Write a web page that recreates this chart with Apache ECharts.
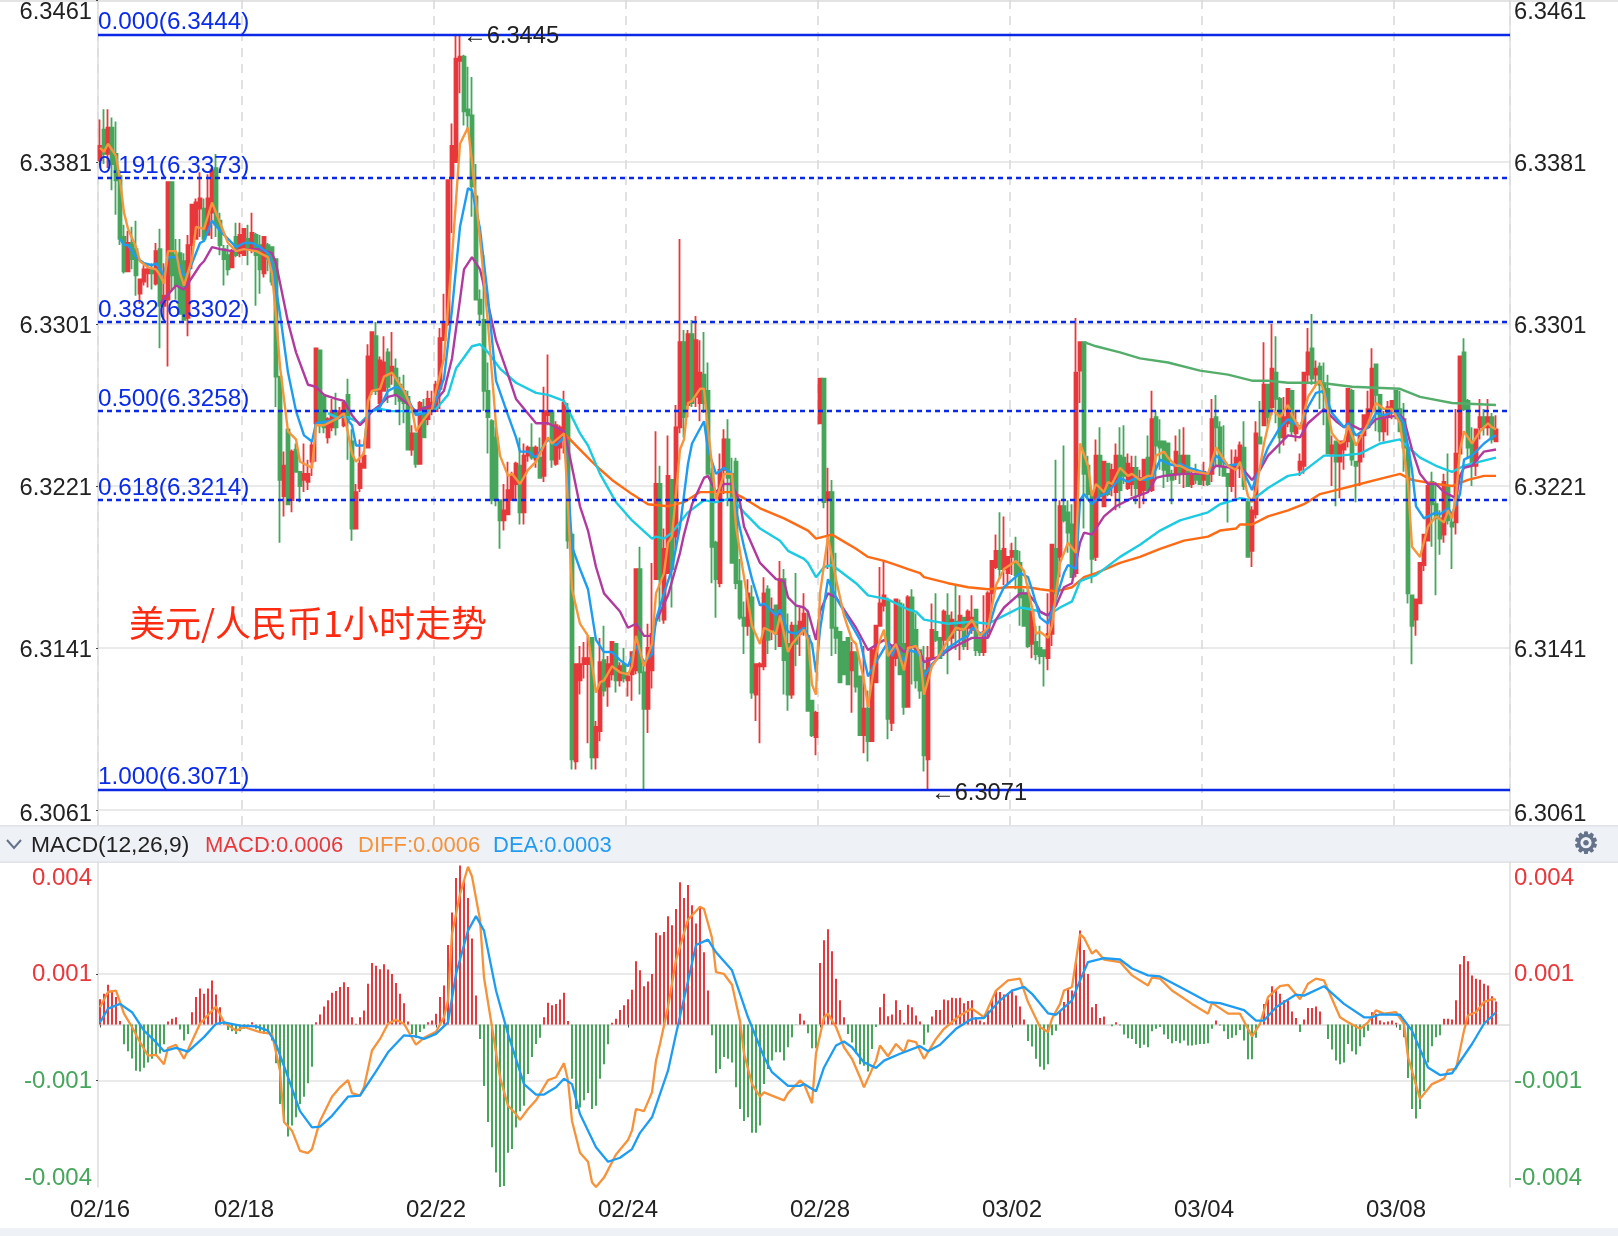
<!DOCTYPE html>
<html><head><meta charset="utf-8">
<style>html,body{margin:0;padding:0;background:#fff}#c{width:1618px;height:1236px}</style>
<script src="https://cdn.jsdelivr.net/npm/echarts@6/dist/echarts.min.js"></script>
</head><body><div id="c"></div>
<script>
// candles: [open, close, low, high], in 0.0001 above 6.3000
const bars0216=[[382,389,381,402],[397,385,380,407],[385,398,378,407],[398,380,367,403],[385,372,355,401],[374,343,340,377],[344,327,326,350],[327,341,327,347],[341,333,328,349],[338,325,315,352],[316,323,311,323],[322,328,320,330],[326,328,319,330],[328,326,318,331],[321,337,320,341],[338,310,289,348],[310,315,303,331],[313,371,280,371],[371,325,317,371],[335,320,313,343],[336,306,306,343],[332,303,303,336],[304,340,295,345],[340,360,328,360],[343,361,343,363],[358,363,344,376],[358,343,342,363],[345,363,345,375],[356,377,343,378],[378,350,344,385],[352,340,335,356],[338,333,320,340],[335,328,325,340],[329,337,329,338],[344,335,334,351],[336,345,334,351]];
const bars0218=[[335,348,335,348],[343,338,330,350],[338,346,336,356],[345,335,310,346],[340,328,316,345],[326,344,324,344],[340,333,327,341],[339,322,320,339],[333,275,260,333],[275,224,193,275],[216,231,206,238],[249,212,212,249],[214,238,208,239],[239,228,228,242],[228,221,213,228],[224,227,218,242],[223,227,219,234],[233,241,226,243],[252,289,233,289],[288,251,247,288],[265,250,247,266],[245,254,242,255],[250,258,248,264],[258,250,246,267],[256,258,254,260],[251,262,250,263],[266,254,234,274],[243,200,194,249],[200,218,200,222],[220,232,218,244],[230,236,230,238],[240,285,240,291],[268,297,266,297],[295,268,266,302],[262,283,262,285],[268,282,268,295],[287,270,262,289],[276,280,271,297],[279,266,261,284],[271,263,251,275],[268,262,252,276],[265,239,239,268],[239,247,236,251],[247,232,230,247],[232,262,232,263],[260,245,245,264],[254,264,251,268],[258,262,256,268]];
const bars0222=[[258,271,258,273],[269,294,259,299],[293,302,293,316],[301,372,300,372],[373,389,346,400],[381,432,381,444],[431,433,415,444],[433,406,399,434],[407,404,397,428],[404,369,354,423],[364,313,313,380],[313,306,300,318],[303,268,258,335],[268,255,237,282],[253,214,212,254],[245,214,211,250],[214,204,190,214],[204,209,199,222],[207,219,207,233],[214,226,214,228],[222,232,214,233],[231,208,202,245],[208,236,202,242],[236,240,233,241],[240,235,234,252],[234,240,230,241],[235,225,225,245],[226,258,223,270],[256,258,251,286],[258,234,230,258],[232,251,231,253],[240,250,234,251],[244,262,237,268],[258,194,190,262],[197,86,81,198],[85,133,81,133],[125,133,118,142],[133,136,126,144],[133,136,94,147],[146,87,81,146],[87,102,81,105],[100,134,95,146],[135,120,117,152],[122,133,112,137],[128,144,125,144],[143,125,119,143],[125,132,122,134],[133,126,124,141]];
const bars0224=[[125,127,117,129],[128,139,115,139],[130,180,128,180],[180,129,118,191],[129,111,71,133],[111,141,99,153],[130,148,121,183],[175,222,175,248],[222,175,154,231],[155,190,153,200],[178,226,178,246],[224,180,161,224],[196,250,190,261],[250,292,247,343],[292,255,245,298],[261,296,255,298],[296,262,260,303],[265,293,260,305],[262,277,253,293],[276,262,257,297],[268,227,227,282],[227,191,173,230],[193,175,156,194],[173,229,171,237],[229,244,217,249],[244,225,211,254],[227,183,183,235],[233,173,170,235],[174,156,155,185],[156,152,138,164],[152,168,147,175],[166,119,116,172],[118,133,105,133],[132,133,94,134],[132,168,130,176],[170,145,138,172],[150,160,145,166],[162,148,140,162],[142,175,142,184],[175,135,118,180],[143,118,110,158],[118,152,116,154],[152,143,132,178],[148,154,137,161],[150,158,147,168],[147,110,110,160],[115,98,97,115],[97,109,88,110],[252,274,252,274]];
const bars0228=[[274,213,210,274],[214,218,180,230],[218,151,137,224],[151,146,138,188],[149,124,124,149],[144,128,128,144],[146,123,123,146],[130,139,109,144],[139,122,119,139],[127,98,98,127],[98,111,89,142],[111,95,85,120],[95,140,95,141],[124,152,124,152],[152,163,152,181],[162,167,159,184],[164,106,96,166],[104,141,100,141],[136,165,132,165],[163,128,128,165],[143,112,108,163],[112,166,112,167],[166,142,123,170],[150,125,121,158],[140,120,116,140],[130,88,80,142],[86,136,71,142],[136,150,136,163],[149,145,144,168],[146,136,136,146],[145,159,137,160],[157,145,128,168],[146,155,141,159],[154,150,140,172],[150,157,135,167],[156,142,140,156],[151,159,140,160],[150,156,148,167],[160,140,137,160],[146,139,137,146],[139,149,137,167],[149,168,146,169],[168,184,161,184],[181,189,180,197],[189,180,175,208],[180,190,172,206],[178,186,172,186],[186,189,177,193]];
const bars0302=[[189,177,170,196],[183,166,152,189],[168,152,152,170],[168,142,141,173],[143,159,136,159],[144,138,135,152],[141,137,133,152],[140,137,122,140],[136,148,130,168],[148,192,142,192],[190,168,163,234],[186,211,176,214],[211,204,203,241],[208,198,188,214],[202,176,176,212],[178,277,176,304],[278,292,262,292],[292,227,200,292],[231,217,214,236],[218,185,173,219],[186,236,184,244],[236,216,214,250],[211,233,211,233],[232,217,216,232],[221,229,216,232],[218,236,209,242],[236,219,210,250],[235,226,222,251],[220,232,219,237],[222,230,216,236],[230,220,212,236],[217,225,210,229],[219,234,212,234],[235,219,218,246],[219,254,218,268],[255,241,224,258],[243,240,229,254],[243,229,220,243],[242,226,223,242],[227,224,212,229],[227,238,224,246],[236,227,222,249],[227,236,220,250],[236,221,221,236],[222,227,220,230],[227,224,222,232],[227,222,222,227],[224,228,221,233]];
const bars0304=[[227,222,221,227],[227,254,223,264],[255,250,231,266],[250,231,226,253],[230,226,226,251],[227,221,203,227],[221,231,218,239],[230,235,215,239],[230,241,225,243],[240,221,219,253],[213,186,186,214],[189,209,181,211],[207,247,205,253],[245,242,242,263],[251,271,251,292],[271,255,250,271],[260,279,256,301],[277,264,252,295],[264,245,237,265],[245,255,241,265],[252,269,250,269],[268,248,246,268],[247,252,243,258],[229,233,226,237],[231,277,227,277],[276,287,272,299],[289,274,271,306],[276,279,271,283],[280,271,259,282],[271,267,251,282],[269,237,237,276],[237,241,221,246],[243,233,211,243],[233,243,215,243],[239,243,229,243],[243,269,240,269],[268,234,231,269],[233,231,213,233],[233,246,221,246],[246,256,235,256],[250,259,249,268],[258,279,258,289],[281,266,248,281],[266,248,243,266],[248,255,243,258],[255,260,246,263],[258,263,254,263],[268,259,254,268]];
const bars0308=[[259,248,248,268],[254,240,228,262],[240,168,163,240],[167,152,133,167],[155,165,147,165],[163,183,163,183],[182,197,179,197],[194,221,194,221],[223,212,191,228],[212,205,167,223],[205,195,187,209],[197,223,193,227],[221,204,202,237],[203,201,180,207],[203,237,197,259],[237,285,237,285],[287,259,258,294],[263,240,235,264],[243,231,221,250],[231,249,226,249],[250,255,244,264],[255,250,246,259],[250,255,246,264],[255,244,242,257],[243,249,243,256]];

// moving averages: [candle index as first read, value in 0.0001 above 6.3000]
const maOrange=[[0,388],[1,386],[2,390],[4,384],[5,372],[6,356],[7,348],[9,339],[10,332],[12,329],[14,328],[15,325],[16,321],[17,337],[19,337],[20,326],[21,320],[23,333],[24,349],[26,348],[28,361],[30,351],[32,341],[34,337],[36,338],[39,337],[42,334],[43,326],[44,305],[45,280],[46,264],[47,248],[49,244],[50,233],[53,230],[54,251],[56,251],[59,254],[61,257],[63,237],[64,233],[66,237],[67,263],[68,268],[70,269],[71,275],[73,277],[76,268],[78,259],[79,248],[81,254],[83,259],[84,268],[86,284],[88,334],[90,390],[92,398],[93,381],[95,343],[97,301],[99,251],[100,236],[102,226],[103,227],[105,222],[107,229],[109,233],[112,245],[113,242],[116,247],[117,211],[118,170],[120,153],[122,147],[124,119],[125,124],[126,125],[128,132],[130,129],[132,128],[133,132],[134,147],[136,132],[138,143],[139,168],[141,178],[142,193],[143,196],[145,239],[146,244],[147,262],[148,263],[150,269],[151,269],[152,249],[154,214],[156,227],[158,227],[159,201],[161,176],[163,152],[165,143],[166,151],[168,148],[169,157],[171,139],[172,143],[175,150],[176,145],[177,123],[178,118],[179,168],[181,196],[183,175],[185,157],[187,145],[188,143],[190,125],[191,112],[193,138],[194,145],[195,150],[196,137],[198,143],[200,130],[201,141],[203,142],[204,138],[205,118],[207,132],[209,138],[211,145],[213,151],[215,150],[217,155],[219,147],[221,151],[223,172],[225,180],[228,184],[230,179],[232,161],[233,148],[234,149],[236,146],[237,152],[238,168],[239,183],[241,193],[243,188],[244,242],[246,231],[247,216],[248,222],[250,218],[251,223],[252,222],[254,230],[256,226],[257,227],[259,224],[261,226],[262,226],[263,236],[265,238],[266,235],[268,231],[269,231],[271,229],[273,228],[276,227],[278,240],[281,231],[283,229],[284,233],[286,216],[287,213],[288,219],[290,242],[292,259],[294,255],[296,261],[297,256],[299,249],[301,265],[303,271],[304,273],[305,268],[307,247],[309,242],[310,243],[311,251],[313,241],[316,252],[318,262],[320,259],[322,259],[324,252],[326,222],[327,191],[329,186],[331,201],[333,206],[335,203],[336,209],[337,205],[338,216],[339,239],[340,248],[342,242],[344,248],[346,252],[347,250],[348,249]];
const maBlue=[[5,343],[6,340],[7,340],[9,334],[11,331],[13,330],[14,331],[16,325],[17,334],[19,334],[21,325],[22,326],[25,341],[26,342],[28,352],[30,347],[32,343],[34,339],[36,341],[38,341],[40,339],[42,336],[43,331],[45,306],[47,277],[49,258],[51,246],[53,243],[54,252],[57,253],[59,254],[61,256],[63,251],[64,241],[66,241],[67,257],[70,260],[72,268],[74,270],[76,268],[79,256],[83,258],[86,274],[88,308],[90,349],[92,368],[93,367],[95,348],[97,314],[99,273],[102,256],[104,245],[105,238],[107,238],[109,235],[112,244],[114,241],[116,245],[117,224],[118,191],[120,180],[122,170],[124,145],[126,139],[128,139],[130,135],[132,132],[134,142],[136,134],[138,138],[139,155],[141,168],[143,180],[145,201],[147,232],[148,242],[151,253],[152,239],[154,227],[156,230],[158,227],[159,209],[161,191],[163,175],[165,162],[166,163],[168,157],[169,160],[171,149],[173,148],[175,151],[177,143],[178,129],[179,150],[181,175],[183,166],[187,152],[189,145],[191,127],[193,134],[196,144],[197,137],[198,142],[200,134],[201,140],[203,139],[204,137],[205,127],[207,133],[209,137],[211,141],[214,145],[216,147],[217,151],[220,147],[221,150],[223,163],[225,171],[229,178],[231,176],[232,170],[234,156],[236,153],[238,165],[240,178],[241,182],[243,180],[244,214],[245,217],[247,212],[249,216],[251,218],[254,225],[256,223],[258,225],[260,224],[262,225],[264,234],[266,232],[268,231],[269,232],[271,230],[273,229],[276,227],[278,236],[281,231],[284,232],[287,219],[288,225],[291,240],[294,250],[296,254],[299,250],[301,260],[303,267],[305,268],[307,257],[310,250],[311,252],[313,246],[316,250],[318,257],[320,256],[323,258],[325,252],[327,229],[328,211],[330,205],[333,208],[334,207],[336,210],[337,207],[339,217],[340,234],[342,236],[345,242],[347,245],[348,246]];
const maPurple=[[15,311],[19,320],[21,318],[25,330],[26,332],[28,339],[30,338],[33,337],[36,338],[40,338],[43,336],[44,331],[47,302],[49,287],[52,271],[54,270],[56,266],[59,264],[61,263],[63,256],[65,251],[66,253],[68,258],[70,261],[72,265],[74,266],[76,263],[79,258],[83,261],[86,268],[88,284],[90,313],[91,328],[93,334],[95,328],[97,311],[99,293],[102,276],[104,264],[109,252],[112,252],[114,250],[116,248],[117,240],[120,211],[122,199],[124,181],[126,168],[130,159],[132,151],[134,153],[136,147],[138,147],[139,154],[142,167],[145,188],[146,197],[148,212],[151,225],[152,226],[154,218],[156,222],[158,222],[160,213],[161,201],[165,183],[168,175],[170,174],[171,166],[173,162],[175,161],[176,159],[178,145],[179,159],[181,168],[183,166],[186,157],[188,151],[191,140],[195,145],[197,142],[198,143],[200,139],[202,142],[204,139],[205,134],[209,137],[212,141],[217,146],[221,146],[223,155],[225,161],[229,168],[231,168],[233,163],[234,159],[236,157],[238,162],[240,171],[242,173],[244,193],[245,198],[247,197],[250,206],[253,211],[257,215],[261,218],[263,225],[265,226],[270,227],[276,227],[278,231],[282,230],[284,231],[287,224],[289,229],[291,236],[293,240],[296,246],[299,245],[301,252],[305,259],[308,253],[310,250],[311,252],[314,249],[316,250],[318,254],[321,255],[324,256],[325,254],[327,239],[329,227],[331,222],[333,222],[335,218],[338,215],[339,226],[340,230],[342,231],[345,238],[348,239]];
const maCyan=[[57,257],[59,255],[62,255],[65,252],[68,258],[70,259],[73,258],[77,258],[79,257],[84,259],[87,266],[89,279],[93,290],[95,291],[97,287],[100,279],[104,272],[109,267],[112,266],[116,263],[117,259],[120,247],[122,241],[125,227],[129,213],[133,204],[138,195],[139,196],[141,195],[143,198],[147,208],[151,214],[154,213],[158,215],[161,208],[165,200],[169,194],[171,189],[175,185],[176,183],[178,176],[180,181],[182,182],[188,173],[191,167],[196,165],[201,160],[203,159],[205,155],[211,153],[217,154],[221,153],[225,157],[229,161],[232,160],[234,159],[236,157],[239,161],[242,164],[244,174],[248,177],[254,186],[259,192],[264,199],[269,204],[276,208],[279,212],[284,215],[287,214],[291,220],[296,226],[299,227],[305,236],[309,236],[314,237],[319,242],[324,244],[325,242],[329,235],[333,231],[337,228],[340,231],[344,233],[348,235]];
const maDeep=[[116,247],[117,245],[120,239],[124,231],[128,224],[133,217],[137,212],[142,211],[146,213],[150,218],[158,218],[161,215],[165,210],[170,205],[176,199],[178,195],[182,197],[188,190],[191,186],[195,184],[198,182],[201,180],[204,178],[205,176],[211,173],[216,171],[221,170],[226,171],[231,171],[234,170],[238,169],[242,171],[245,176],[248,178],[254,183],[259,186],[264,190],[270,194],[276,196],[279,199],[283,200],[284,202],[287,202],[291,206],[296,209],[300,212],[304,217],[308,219],[314,222],[318,224],[324,227],[327,224],[333,222],[337,221],[341,224],[345,226],[348,226]];
const maGreen=[[245,292],[248,290],[254,287],[259,284],[266,282],[274,278],[281,276],[287,273],[291,273],[296,272],[304,272],[312,270],[324,269],[329,265],[337,262],[348,261]];

// MACD histogram, one value per candle, in 0.0001
const histA=[7,8.5,11,9.5,7.6,1,-5.5,-7.4,-9.4,-12.8,-13,-12,-10.5,-9.5,-8.6,-8,-5.5,.8,1.6,2,-1.4,-4.4,-2.6,3.4,7.6,10,8.5,10,12.2,8.3,4.8,1,-1.5,-1.9,-2.6,-1.9,-1.2,-.3,.6,-1.2,-1.9,-2.6,-2.6,-4.4,-10.7,-22,-27,-31,-28,-25.7,-22,-20,-16.3,-11.7,.6,2.8,5,6.7,8.8,9.3,10.4,11.7,10.4,2,.2,2,3.9,11.3,17,16.3,15.3,16.7,15.2,14,11.5,8.5,5.9,.8,-2.6,-3.7,-2.1,-1.2,.6,1.1,3,7.6,10.8,22,31,40.6,44,40,35,23.8,8];
const histB=[-4,-17,-27,-34,-41,-45,-44.7,-35.5,-34.5,-28.5,-24,-22.5,-13.7,-9,-5.4,-3.7,2,6,5.3,5.7,6.9,8.8,1,-15,-23.4,-23,-21,-19,-23.4,-22.5,-15,-11,-5.5,.5,1.6,4,5.3,7,9.6,17.5,15,10.6,11.9,14,25.4,24.7,25.6,30,27.5,32,39.4,35,38.6,33,28,32.6,20,9.4,-3,-13.5,-12.3,-9,-9.5,-10.5,-17.4,-23.4,-26.7,-25.7,-30,-30,-28,-16.5,-12.3,-10,-7.7,-7.7,-10,-6.3,-3.5,-.1];
const histC=[3,1.1,-2.4,-6.6,-6.6,17,23.3,26.4,20.3,12.7,6.7,2,-2.6,-5,-8,-11,-11.4,-13,-6.8,-.7,4.8,8.5,2.3,2.8,6.7,4,.5,5.5,4.8,2.5,.8,-5.6,-2.2,2.2,4,4,6.9,6.7,7.4,7.3,7.4,5.9,6.5,6.7,2,1.1,.6,3.9,6.9,9.4,9,8.3,8.5,9.6,8,5,1.4,-4.6,-6.1,-9.5,-11.7,-12.5,-11,-3,-1.7,3.9,6.2,9.9,9.4,17.8,26,20.6,14,4.8,5.7,1.8,2.2,0,-.5,.6,-.3,-2.8,-3.8,-4,-5.4,-6.5,-5.6,-6.3,-1.9,-1.2,-.7,-2.8,-4,-5.2,-4.6,-5.2,-4.4,-5.8,-5.8,-5.6,-5.4,-5.4,-5.2,-1.2,1.1,-.3,-1.9,-4,-3.7,-3,-1.5,-4.4,-9.6,-9.6,-3.7,.2,5.7,6.9,10.6,9.6,8.5,6.7,6.7,3.6,1.8,-2.1,1.4,4.6,4.6,5,3.6,0,-4,-6.9,-10,-11,-10.5,-5.4,-7.4,-8.3,-6,-3.5,-1.7,3.4,3,1.1,.6,.8,1.1,.5,-1.5,-3.5,-14.8,-23.4,-26,-23.4,-18.5,-10.5,-6,-3.5,-3,1.6,1.6,1.4,6.7,16.7,19,17.5,13.6,12.7,12.4,11.3,10.8,7.8,6.4];
// DIFF and DEA: [candle index, value in 0.0001]
const diffLine=[[0,4.8],[2,9],[4,9.4],[6,3],[8,-.7],[10,-4.9],[12,-8.6],[14,-8.4],[16,-11],[17,-6.5],[19,-5.6],[21,-9.5],[22,-7],[25,.2],[29,5],[31,.6],[34,-1.7],[36,-.7],[40,-2.1],[43,-2.6],[45,-12.8],[46,-27],[48,-29.4],[50,-35],[52,-35.6],[53,-34.5],[55,-26.7],[58,-20],[60,-17.4],[62,-15.4],[63,-19],[65,-19.7],[66,-17.4],[68,-7.2],[70,-4],[72,.2],[74,1.3],[76,.2],[79,-5.6],[81,-3.7],[84,-2],[86,2],[87,6.7],[88,25],[90,36],[92,43.7],[93,41],[95,29],[96,13],[98,-.7],[100,-14.6],[102,-22.5],[104,-24.8],[105,-26.4],[107,-23.4],[109,-21],[112,-15.4],[114,-14.6],[116,-10.7],[117,-15.5],[118,-26.7],[120,-35.5],[122,-38],[123,-43.7],[124,-45],[126,-42.4],[129,-36],[132,-32],[133,-29.4],[134,-23.4],[136,-24],[138,-18.8],[139,-10],[140,-5.4],[142,4.8],[144,17.8],[147,29],[150,32.6],[151,32],[153,24],[154,14.5],[156,14],[158,11],[160,1],[161,-8],[163,-16.5],[165,-20],[166,-18.8],[168,-19.7],[171,-21],[172,-19],[175,-15.5],[176,-16.5],[178,-21.8],[179,-8],[181,2],[182,3],[184,-.7],[186,-6.3],[188,-9.5],[190,-14.6],[191,-17.4],[194,-10],[195,-5.8],[197,-8.8],[199,-5.4],[201,-7.7],[202,-4.4],[204,-4.9],[206,-9.5],[209,-4],[211,-1.2],[215,2.5],[218,4.4],[221,2],[224,9.4],[227,12.2],[230,12.7],[232,6.2],[235,-.7],[237,-2.1],[238,1.6],[240,5.7],[241,9.4],[243,10.4],[245,25],[246,24],[248,19.6],[249,20.6],[251,18],[255,17.3],[258,13.6],[262,10.8],[263,13],[265,12.7],[268,9.4],[273,5.7],[277,3],[278,6],[282,3],[285,3],[288,-3.3],[290,.2],[292,7.6],[295,10.6],[297,11],[300,7],[302,11.3],[304,12.7],[306,12.2],[310,2],[312,.6],[315,-1.2],[317,.6],[319,3.9],[321,3],[324,3.4],[326,.2],[327,-9],[330,-20.6],[333,-16.5],[336,-15],[337,-12.6],[339,-12.3],[341,-1.7],[342,2.5],[344,3.4],[346,6.2],[348,7],[349,6.9]];
const deaLine=[[0,.6],[2,4.4],[5,5.7],[8,3.4],[11,-1.7],[14,-4.9],[16,-7.4],[19,-6.5],[22,-7.5],[26,-3.5],[29,.2],[31,.6],[35,-.3],[39,-.5],[42,-1.7],[44,-5.4],[47,-14.6],[50,-24],[53,-28.5],[55,-28.3],[58,-25.3],[62,-20],[65,-19.7],[69,-13],[72,-7.7],[76,-3],[79,-3.3],[81,-4],[84,-2.6],[87,.6],[89,14],[92,26],[94,30],[96,26],[99,9.4],[102,-2.6],[106,-16.5],[109,-19.4],[111,-19.4],[114,-17.4],[116,-15],[118,-16.5],[120,-24.8],[124,-34],[127,-38],[130,-36.9],[133,-34.5],[135,-30],[138,-25.7],[142,-12.8],[144,-2.6],[147,12],[149,22],[152,23.5],[154,20],[158,15],[162,2],[166,-9],[168,-13.2],[172,-17],[175,-17],[176,-16.5],[179,-18.5],[181,-11.9],[184,-5.8],[186,-4.7],[188,-6.3],[191,-10.5],[194,-12],[196,-10],[200,-8.1],[205,-6],[207,-7.4],[210,-5.6],[214,-1.2],[218,1.6],[221,1.8],[225,6.7],[228,9.4],[231,10.4],[233,8.5],[237,3.1],[239,2.7],[243,6.7],[245,12.2],[247,17.3],[251,18.4],[255,18],[258,15.5],[262,13.6],[265,13.3],[270,10.4],[277,6.2],[280,5.9],[286,4],[289,1.1],[291,1.1],[294,4.8],[299,8.3],[301,8],[306,10.6],[311,5.7],[316,2],[318,2],[320,2.8],[325,2.7],[328,-1.7],[332,-11.9],[335,-14],[338,-13.5],[343,-5.4],[346,.2],[349,3.4]];

const categoryCount=353;
const dateIndex=[0,36,84,132,180,228,276,324];
const dateText=['02/16','02/18','02/22','02/24','02/28','03/02','03/04','03/08'];
const priceTicks=[6.3061,6.3141,6.3221,6.3301,6.3381,6.3461];
const priceTickText=['6.3061','6.3141','6.3221','6.3301','6.3381','6.3461'];
const priceLabelAt=[6.3059,6.3140,6.3220,6.3300,6.3380,6.3455];
const fibLevels=['0.000','0.191','0.382','0.500','0.618','1.000'];
const fibPrices=[6.3444,6.3373,6.3302,6.3258,6.3214,6.3071];
const macdTickValues=[-0.00425,-0.00158,0.0014,0.00405];
const macdTickText=['-0.004','-0.001','0.001','0.004'];
const macdGridValues=[-0.00155,0.0014];
const highTag={index:90,price:6.3445,text:'←6.3445'};
const lowTag={index:207,price:6.3071,text:'←6.3071'};

const RED='#e8383b',GREEN='#47a55c',FONT='"Liberation Sans",Arial,sans-serif';
const px=p=>+(6.3+p/1e4).toFixed(4);
const candles=[...bars0216,...bars0218,...bars0222,...bars0224,...bars0228,...bars0302,...bars0304,...bars0308].map(b=>b.map(px));
const hist=[...histA,...histB,...histC].map(v=>+(v/1e4).toFixed(5));
// the averages were read against a 0.3% wider candle pitch; align their index with the candles
const priceLine=a=>a.map(([i,p])=>[Math.round(i*1.003),px(p)]);
const macdLine=a=>a.map(([i,v])=>[i,+(v/1e4).toFixed(5)]);
const cats=Array.from({length:categoryCount},(_,i)=>{const k=dateIndex.indexOf(i);return k>=0?dateText[k]:'h'+i;});
const isDate=i=>dateIndex.indexOf(i)>=0;

const fibData=fibLevels.map((lv,k)=>{
  const solid=lv==='0.000'||lv==='1.000';
  return {yAxis:fibPrices[k],
    lineStyle:{color:'#0a28e6',width:2.4,type:solid?'solid':[5,4]},
    label:{show:true,position:'insideStartTop',distance:[0,0],formatter:lv+'('+fibPrices[k].toFixed(4)+')',color:'#0a2be8',fontSize:24.3,fontFamily:FONT,padding:0}};
});
const ma=(name,data,color,w,extra)=>Object.assign({name,type:'line',data:priceLine(data),xAxisIndex:0,yAxisIndex:0,symbol:'none',silent:true,z:4,lineStyle:{color,width:w||2.4},itemStyle:{color}},extra||{});
const priceFmt=v=>priceTickText[priceLabelAt.indexOf(+v)]||'';

const labelCommon={fontSize:23.7,fontFamily:FONT,color:'#222'};
const option={
  animation:false,backgroundColor:'#fff',
  title:{text:'美元/人民币1小时走势',left:129,top:605,padding:0,textStyle:{color:'#ff2a10',fontSize:36,fontWeight:'normal',fontFamily:'"Noto Sans CJK SC",sans-serif'}},
  graphic:[
    {type:'rect',silent:true,z:0,shape:{x:0,y:0,width:1618,height:2},style:{fill:'#e4e4e4'}},
    {type:'rect',silent:true,z:0,shape:{x:0,y:825,width:1618,height:38},style:{fill:'#eef1f6'}},
    {type:'rect',silent:true,z:0,shape:{x:0,y:825,width:1618,height:1.5},style:{fill:'#dfe2e6'}},
    {type:'rect',silent:true,z:0,shape:{x:0,y:861.5,width:1618,height:1.5},style:{fill:'#dfe2e6'}},
    {type:'rect',silent:true,z:0,shape:{x:0,y:1228,width:1618,height:8},style:{fill:'#eef1f6'}},
    {type:'polyline',silent:true,z:5,shape:{points:[[7,840],[14,848],[21,840]]},style:{stroke:'#64728a',lineWidth:2,fill:null}},
    {type:'text',silent:true,z:5,x:31,y:846,style:{text:'MACD(12,26,9)',fill:'#222',font:'22.8px '+FONT,verticalAlign:'middle'}},
    {type:'text',silent:true,z:5,x:205,y:846,style:{text:'MACD:0.0006',fill:'#e8383b',font:'22px '+FONT,verticalAlign:'middle'}},
    {type:'text',silent:true,z:5,x:358,y:846,style:{text:'DIFF:0.0006',fill:'#f5923a',font:'22px '+FONT,verticalAlign:'middle'}},
    {type:'text',silent:true,z:5,x:493,y:846,style:{text:'DEA:0.0003',fill:'#1f9bf0',font:'22px '+FONT,verticalAlign:'middle'}},
    {type:'text',silent:true,z:5,x:1586,y:845,style:{text:'⚙',fill:'#64728a',stroke:'#64728a',lineWidth:1.2,font:'29px "DejaVu Sans"',align:'center',verticalAlign:'middle'}}
  ],
  grid:[{left:98,width:1412,top:0,height:825},{left:98,width:1412,top:862,height:325}],
  xAxis:[
    {type:'category',gridIndex:0,data:cats,boundaryGap:true,
     axisLine:{show:false},axisLabel:{show:false},axisTick:{show:false},
     splitLine:{show:true,interval:i=>isDate(i),lineStyle:{color:'#d8d8d8',width:1.5,type:[9,7]}}},
    {type:'category',gridIndex:1,data:cats,boundaryGap:true,
     axisLine:{show:true,lineStyle:{color:'#dcdcdc',width:1.5}},
     axisTick:{show:true,alignWithLabel:true,interval:i=>isDate(i),length:3,lineStyle:{color:'#555'}},
     axisLabel:{show:true,interval:i=>isDate(i),margin:11,hideOverlap:false,fontSize:24,fontFamily:FONT,color:'#222'},
     splitLine:{show:false}}
  ],
  yAxis:[
    {type:'value',gridIndex:0,position:'left',min:6.30536,max:6.3461,scale:true,
     axisLine:{show:true,lineStyle:{color:'#dcdcdc',width:1.5}},
     axisTick:{show:true,length:2,customValues:priceTicks,lineStyle:{color:'#444'}},
     axisLabel:{customValues:priceLabelAt,margin:6,padding:[7,0,0,0],formatter:priceFmt,...labelCommon},
     splitLine:{show:true,customValues:priceTicks,lineStyle:{color:'#e3e3e3',width:1.5}}},
    {type:'value',gridIndex:0,position:'right',min:6.30536,max:6.3461,scale:true,
     axisLine:{show:true,lineStyle:{color:'#dcdcdc',width:1.5}},axisTick:{show:false},
     axisLabel:{customValues:priceLabelAt,margin:4,padding:[7,0,0,0],formatter:priceFmt,...labelCommon},
     splitLine:{show:false}},
    {type:'value',gridIndex:1,position:'left',min:-0.0045,max:0.0045,
     axisLine:{show:true,lineStyle:{color:'#dcdcdc',width:1.5}},
     axisTick:{show:true,length:2,customValues:macdGridValues,lineStyle:{color:'#444'}},
     axisLabel:{customValues:macdTickValues,margin:6,padding:[4,0,0,0],formatter:v=>macdTickText[macdTickValues.indexOf(+v)]||'',
       fontSize:24,fontFamily:FONT,color:v=>(+v>0?RED:GREEN)},
     splitLine:{show:true,customValues:macdGridValues,lineStyle:{color:'#e3e3e3',width:1.5}}},
    {type:'value',gridIndex:1,position:'right',min:-0.0045,max:0.0045,
     axisLine:{show:true,lineStyle:{color:'#dcdcdc',width:1.5}},axisTick:{show:false},
     axisLabel:{customValues:macdTickValues,margin:4,padding:[4,0,0,0],formatter:v=>macdTickText[macdTickValues.indexOf(+v)]||'',
       fontSize:24,fontFamily:FONT,color:v=>(+v>0?RED:GREEN)},
     splitLine:{show:false}}
  ],
  series:[
    {name:'K',type:'candlestick',xAxisIndex:0,yAxisIndex:0,data:candles,barWidth:3,progressive:0,large:false,silent:true,z:2,
     itemStyle:{color:RED,color0:GREEN,borderColor:RED,borderColor0:GREEN,borderColorDoji:GREEN,borderWidth:1.8},
     markPoint:{silent:true,symbol:'circle',symbolSize:0,animation:false,z:7,
       label:{show:true,position:'right',distance:3,offset:[0,4],color:'#222',fontSize:23.7,fontFamily:FONT},
       data:[highTag,lowTag].map(t=>({coord:[t.index,t.price],label:{formatter:t.text}}))}},
    ma('MA120',maDeep,'#ff6a14'),
    ma('MA60',maCyan,'#1ccbe2'),
    ma('MA240',maGreen,'#55ad6b',2.4,{markLine:{silent:true,symbol:'none',precision:4,z:6,animation:false,data:fibData}}),
    ma('MA30',maPurple,'#b23a9f'),
    ma('MA10',maBlue,'#1d9cf2'),
    ma('MA5',maOrange,'#f6953c'),
    {name:'MACD',type:'bar',xAxisIndex:1,yAxisIndex:2,data:hist,barWidth:2,silent:true,z:2,
     itemStyle:{color:p=>p.value>=0?RED:GREEN}},
    {name:'DIFF',type:'line',xAxisIndex:1,yAxisIndex:2,data:macdLine(diffLine),symbol:'none',silent:true,z:4,lineStyle:{color:'#f5923a',width:2.3}},
    {name:'DEA',type:'line',xAxisIndex:1,yAxisIndex:2,data:macdLine(deaLine),symbol:'none',silent:true,z:5,lineStyle:{color:'#1d9cf2',width:2.3}}
  ]
};
echarts.init(document.getElementById('c'),null,{renderer:'canvas'}).setOption(option);
</script></body></html>
